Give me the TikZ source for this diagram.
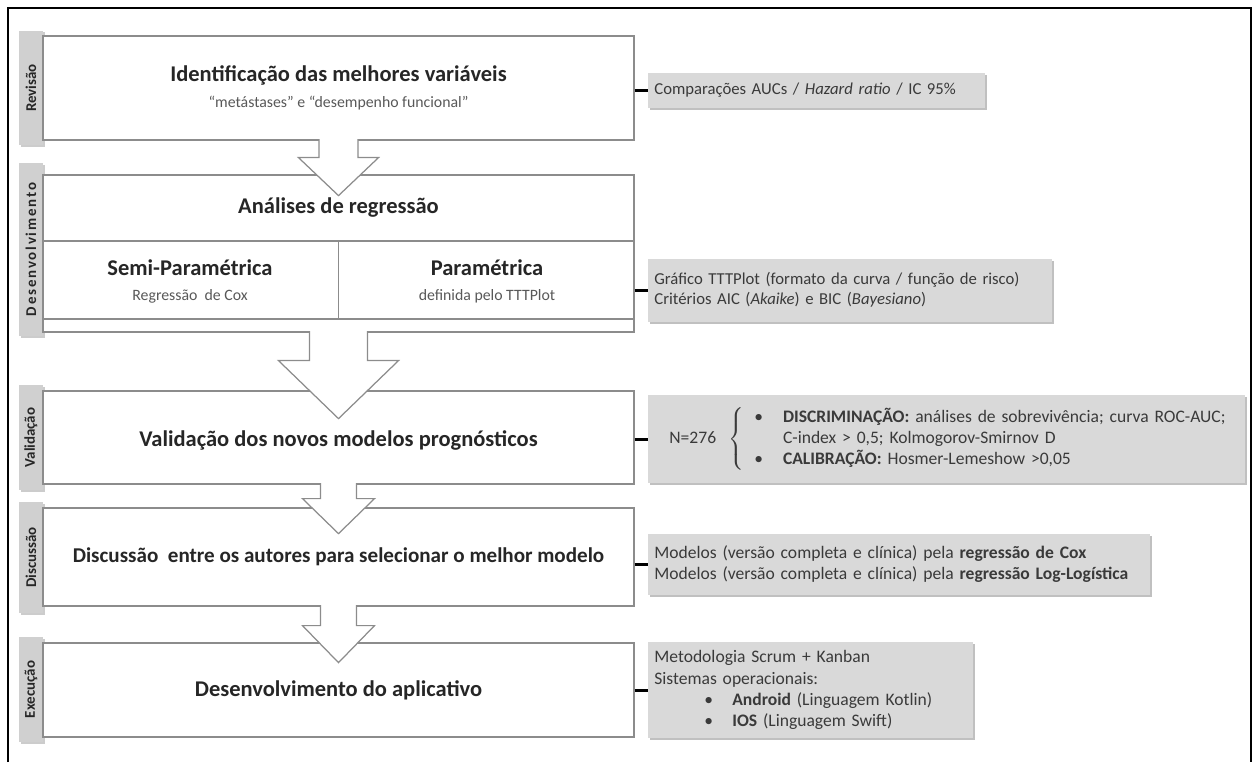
\documentclass[tikz,border=0pt]{standalone}
\usepackage{fontspec}
\setmainfont{Carlito}
\usetikzlibrary{positioning}
\usetikzlibrary{calc}
\usetikzlibrary{shadows}

\definecolor{boxline}{HTML}{8C8C8C}
\definecolor{tabfill}{HTML}{D0D0D0}
\definecolor{notefill}{HTML}{D9D9D9}
\definecolor{txtdark}{HTML}{262626}
\definecolor{txtgray}{HTML}{595959}
\definecolor{notetext}{HTML}{3A3A3A}

\tikzset{
  stagebox/.style={draw=boxline, fill=white, line width=0.7pt, minimum width=11.82cm, inner sep=0pt},
  stagetab/.style={fill=tabfill, rotate=90, minimum height=0.48cm, inner sep=0pt,
    font=\fontsize{8.5}{9}\selectfont\bfseries, text=txtdark,
    drop shadow={shadow xshift=1pt, shadow yshift=-1pt, fill=black!40, opacity=0.5}},
  blockarrow/.style={draw=boxline, fill=white, line width=0.7pt, line join=miter},
  divider/.style={draw=boxline, line width=0.7pt},
  headtext/.style={font=\fontsize{12.8}{15}\selectfont\bfseries, text=txtdark},
  subtext/.style={font=\fontsize{9}{11}\selectfont, text=txtgray},
  note/.style={fill=notefill, anchor=west, inner xsep=0.12cm, inner ysep=0pt, align=left,
    font=\fontsize{9.5}{11.5}\selectfont, text=notetext,
    drop shadow={shadow xshift=1.2pt, shadow yshift=-1.2pt, fill=black!45, opacity=0.55}},
  bignote/.style={note, font=\fontsize{10}{12}\selectfont},
  link/.style={draw=black, line width=1.7pt}
}

\begin{document}
\begin{tikzpicture}[x=0.02cm, y=-0.02cm]
\useasboundingbox (0,0) rectangle (1256,762);
\draw[line width=1.2pt] (8,762) -- (8,8) -- (1251,8) -- (1251,762);

% tabs at the left
\node[stagetab, minimum width=2.3cm] (trev) at (31,88) {Revisão};
\node[stagetab, minimum width=3.46cm, font=\fontsize{8.5}{9}\selectfont\bfseries\addfontfeature{LetterSpace=12}] (tdev) at (31,249.5) {Desenvolvimento};
\node[stagetab, minimum width=2.1cm] (tval) at (31,437.5) {Validação};
\node[stagetab, minimum width=2.22cm] (tdisc) at (31,557.5) {Discussão};
\node[stagetab, minimum width=2.1cm] (texe) at (31,689.5) {Execução};

% stages
\node[stagebox, minimum height=2.08cm] (rev) at (338.5,88) {};
\node[stagebox, minimum height=3.14cm] (dev) at (338.5,253.5) {};
\node[stagebox, minimum height=1.86cm] (val) at (338.5,437.5) {};
\node[stagebox, minimum height=1.96cm] (disc) at (338.5,557) {};
\node[stagebox, minimum height=1.88cm] (exe) at (338.5,690) {};

\draw[divider] (dev.west |- 0,241) -- (dev.east |- 0,241);
\draw[divider] (dev.west |- 0,319) -- (dev.east |- 0,319);
\draw[divider] (dev.center |- 0,241) -- (dev.center |- 0,319);

\foreach \n/\sw/\hw/\len/\hd in {rev/19.5/40/17/38, dev/29/60/28/58, val/18/36/14/35, disc/18/36/19/37}
  \draw[blockarrow] ($(\n.south)+(-\sw,-1.5)$) -- ++(0,\len+1.5) -- ++(\sw-\hw,0)
    -- ++(\hw,\hd) -- ++(\hw,-\hd) -- ++(\sw-\hw,0) -- ++(0,-\len-1.5);

% texts in the stages
\node[headtext] (revtitle) at (338.5,75) {Identificação das melhores variáveis};
\node[subtext] (revsub) at (338.5,103) {“metástases” e “desempenho funcional”};
\node[headtext] (devtitle) at (338.5,208) {Análises de regressão};
\node[headtext] (semi) at (190,268) {Semi-Paramétrica};
\node[subtext] (cox) at (190,296) {Regressão\ \ de Cox};
\node[headtext] (param) at (487,268) {Paramétrica};
\node[subtext] (ttt) at (487,296) {definida pelo TTTPlot};
\node[headtext] (valtitle) at (338.5,440) {Validação dos novos modelos prognósticos};
\node[headtext, font=\fontsize{12}{14}\selectfont\bfseries] (disctitle) at (338.5,557) {Discussão\ \ entre os autores para selecionar o melhor modelo};
\node[headtext] (exetitle) at (338.5,690) {Desenvolvimento do aplicativo};

% notes at the right
\node[note, text width=6.5cm, minimum height=0.7cm] (n1) at (648,90)
  {Comparações AUCs / \textit{Hazard ratio} / IC 95\%};
\node[note, text width=7.84cm, minimum height=1.26cm] (n2) at (648,290)
  {Gráfico TTTPlot (formato da curva / função de risco)\\
   Critérios AIC (\textit{Akaike}) e BIC (\textit{Bayesiano})};
\node[bignote, text width=11.7cm, minimum height=1.76cm] (n3) at (648,439)
  {\hspace*{0.3cm}N=276\hspace{0.25cm}$\left\{\begin{tabular}{@{\hspace{0.2cm}}l@{\hspace{0.4cm}}l@{}}
     \textbullet & \textbf{DISCRIMINAÇÃO:} análises de sobrevivência; curva ROC-AUC;\\
     & C-index > 0,5; Kolmogorov-Smirnov D\\
     \textbullet & \textbf{CALIBRAÇÃO:} Hosmer-Lemeshow >0,05
   \end{tabular}\right.$};
\node[bignote, text width=9.8cm, minimum height=1.22cm] (n4) at (648,564)
  {Modelos (versão completa e clínica) pela \textbf{regressão de Cox}\\
   Modelos (versão completa e clínica) pela \textbf{regressão Log-Logística}};
\node[bignote, text width=6.26cm, minimum height=1.92cm] (n5) at (648,690)
  {Metodologia Scrum + Kanban\\
   Sistemas operacionais:\\
   \hspace*{1cm}\makebox[0.56cm][l]{\textbullet}\textbf{Android} (Linguagem Kotlin)\\
   \hspace*{1cm}\makebox[0.56cm][l]{\textbullet}\textbf{IOS} (Linguagem Swift)};

\draw[link] (rev.east |- n1.west) -- (n1.west);
\draw[link] (dev.east |- n2.west) -- (n2.west);
\draw[link] (val.east |- n3.west) -- (n3.west);
\draw[link] (disc.east |- n4.west) -- (n4.west);
\draw[link] (exe.east |- n5.west) -- (n5.west);
\end{tikzpicture}
\end{document}
